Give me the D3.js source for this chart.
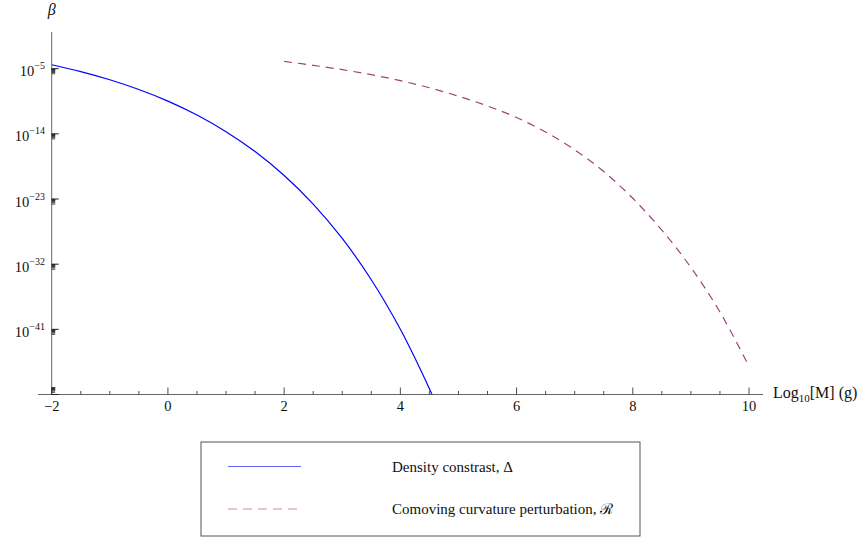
<!DOCTYPE html>
<html>
<head>
<meta charset="utf-8">
<script src="https://cdn.jsdelivr.net/npm/d3@7"></script>
<style>
  body { margin: 0; background: #fff; }
  svg { display: block; }
  svg text { font-family: "Liberation Serif", "Times New Roman", serif; fill: #111; }
</style>
</head>
<body>
<svg id="chart" width="867" height="538"></svg>
<script>
// ---- data (log10 M in g, log10 beta) ----
const densityM    = [-2, -1.5, -1, -0.5, 0, 0.5, 1, 1.5, 2, 2.5, 3, 3.5, 4, 4.5, 4.56];
const densityLogB = [-4.45, -5.4, -6.53, -7.88, -9.48, -11.4, -13.7, -16.45, -19.75, -23.7, -28.45, -34.15, -41.0, -49.2, -50.3];

const curvM    = [2, 2.5, 3, 3.5, 4, 4.5, 5, 5.5, 6, 6.5, 7, 7.5, 8, 8.5, 9, 9.5, 10];
const curvLogB = [-4.0, -4.53, -5.13, -5.83, -6.65, -7.63, -8.8, -10.15, -11.75, -13.75, -16.2, -19.2, -22.9, -27.3, -32.45, -38.6, -46.1];

const xTickValues = [-2, 0, 2, 4, 6, 8, 10];
const yTickExps   = [-5, -14, -23, -32, -41];
const seriesNames = ["Density constrast, \u0394", "Comoving curvature perturbation, \u211B"];
const seriesColors = ["#0000ff", "#a0437c"];

// ---- layout ----
const svg = d3.select("#chart");
const x = d3.scaleLinear().domain([-2, 10]).range([51.7, 749]);
const y = d3.scaleLinear().domain([-50, 0]).range([394.5, 32.5]);
const axisY = 394.5, axisX = 51.7;

svg.append("clipPath").attr("id", "clip")
  .append("rect").attr("x", axisX).attr("y", 20).attr("width", 760).attr("height", axisY - 20);

// axis lines
svg.append("line").attr("x1", 38).attr("x2", 763).attr("y1", axisY).attr("y2", axisY)
  .attr("stroke", "#666").attr("stroke-width", 1);
svg.append("line").attr("x1", axisX).attr("x2", axisX).attr("y1", 32).attr("y2", axisY)
  .attr("stroke", "#666").attr("stroke-width", 1);

// x ticks
const xMinor = d3.range(-2, 10.001, 0.5).filter(v => Math.abs(v % 2) > 1e-6);
svg.append("g").selectAll("line").data(xMinor).join("line")
  .attr("x1", d => x(d)).attr("x2", d => x(d))
  .attr("y1", axisY).attr("y2", axisY - 3.5)
  .attr("stroke", "#222").attr("stroke-width", 0.8);
svg.append("g").selectAll("line").data(xTickValues).join("line")
  .attr("x1", d => x(d)).attr("x2", d => x(d))
  .attr("y1", axisY).attr("y2", axisY - 7)
  .attr("stroke", "#222").attr("stroke-width", 0.8);
svg.append("g").selectAll("text").data(xTickValues).join("text")
  .attr("x", d => x(d)).attr("y", 411)
  .attr("text-anchor", "middle").attr("font-size", 14.5)
  .text(d => d < 0 ? "\u2212" + Math.abs(d) : d);

// y ticks
const yMajorAll = yTickExps.concat([-50]);
svg.append("g").selectAll("line").data(yMajorAll).join("line")
  .attr("x1", axisX).attr("x2", axisX + 7)
  .attr("y1", d => y(d)).attr("y2", d => y(d))
  .attr("stroke", "#222").attr("stroke-width", 1);
const yMinor = [];
yTickExps.forEach(e => { for (let k = 2; k <= 9; k++) yMinor.push(e - 1 + Math.log10(k)); });
for (let k = 2; k <= 9; k++) yMinor.push(-50 + Math.log10(k));
svg.append("g").selectAll("line").data(yMinor).join("line")
  .attr("x1", axisX).attr("x2", axisX + 3.5)
  .attr("y1", d => y(d)).attr("y2", d => y(d))
  .attr("stroke", "#222").attr("stroke-width", 0.8);

const yLab = svg.append("g").selectAll("text").data(yTickExps).join("text")
  .attr("x", 45).attr("y", d => y(d) + 7.5)
  .attr("text-anchor", "end").attr("font-size", 14.5);
yLab.append("tspan").text("10");
yLab.append("tspan").attr("dy", -7).attr("font-size", 10).text(d => "\u2212" + Math.abs(d));

// axis labels
svg.append("text").attr("x", axisX).attr("y", 15).attr("text-anchor", "middle")
  .attr("font-size", 16).attr("font-style", "italic").text("\u03B2");
const xl = svg.append("text").attr("x", 773).attr("y", 398).attr("font-size", 16);
xl.append("tspan").text("Log");
xl.append("tspan").attr("dy", 4).attr("font-size", 11).text("10");
xl.append("tspan").attr("dy", -4).text("[M] (g)");

// curves
const line = d3.line().x(d => x(d[0])).y(d => y(d[1])).curve(d3.curveCatmullRom.alpha(0.5));
const plot = svg.append("g").attr("clip-path", "url(#clip)");
plot.append("path").datum(densityM.map((m, i) => [m, densityLogB[i]]))
  .attr("d", line).attr("fill", "none").attr("stroke", seriesColors[0]).attr("stroke-width", 1.2);
plot.append("path").datum(curvM.map((m, i) => [m, curvLogB[i]]))
  .attr("d", line).attr("fill", "none").attr("stroke", seriesColors[1]).attr("stroke-width", 1.2)
  .attr("stroke-dasharray", "8,6");

// legend
const lg = svg.append("g");
lg.append("rect").attr("x", 201).attr("y", 442).attr("width", 439).attr("height", 94)
  .attr("fill", "none").attr("stroke", "#555").attr("stroke-width", 1);
const legY = [466.5, 509];
seriesNames.forEach((name, i) => {
  lg.append("line").attr("x1", 228).attr("x2", 301).attr("y1", legY[i]).attr("y2", legY[i])
    .attr("stroke", seriesColors[i]).attr("stroke-opacity", 0.6).attr("stroke-width", 1.2)
    .attr("stroke-dasharray", i === 1 ? "9,6" : null);
  lg.append("text").attr("x", 392).attr("y", legY[i] + 5).attr("font-size", 15).text(name);
});
</script>
</body>
</html>
